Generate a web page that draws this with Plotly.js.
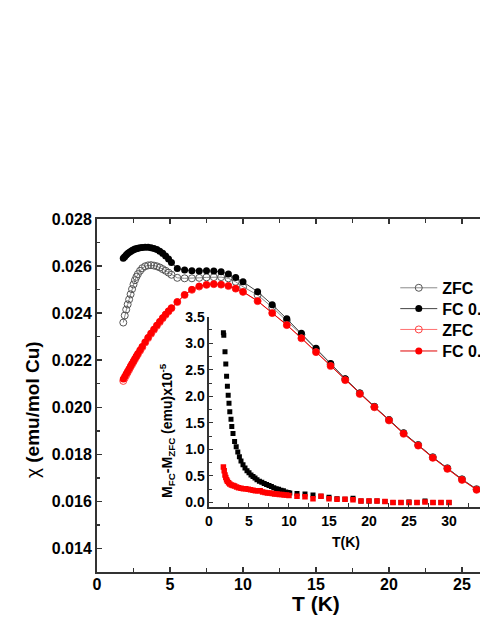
<!DOCTYPE html>
<html>
<head>
<meta charset="utf-8">
<script src="https://cdn.plot.ly/plotly-3.0.1.min.js"></script>
<style>
html, body { margin: 0; padding: 0; overflow: hidden; background: #fff; }
#chi { width: 560px; height: 621px; }
</style>
</head>
<body>
<div id="chi"></div>
<script>
// main plot: chi vs T
var tMain = [1.8, 1.9, 2.0, 2.1, 2.2, 2.3, 2.4, 2.5, 2.6, 2.7, 2.8, 2.95, 3.1, 3.3, 3.5, 3.7, 3.9, 4.1, 4.3, 4.5, 4.7, 4.9, 5.1,
    5.5, 6.0, 6.5, 7.0, 7.5, 8.0, 8.5, 9.0, 9.5, 10, 11, 12, 13, 14, 15, 16, 17, 18, 19, 20, 21, 22, 23, 24, 25, 26, 27, 28, 29, 30];

var zfcLow = [0.02360, 0.02390, 0.02415, 0.02437, 0.02458, 0.02480, 0.02502, 0.02522, 0.02540, 0.02554, 0.02566, 0.02580, 0.02591,
    0.02599, 0.02603, 0.02604, 0.02602, 0.02599, 0.02594, 0.02587, 0.02580, 0.02572, 0.02563,
    0.02550, 0.02548, 0.02548, 0.02550, 0.02552, 0.02553, 0.02553, 0.02548, 0.02533, 0.02512, 0.02477, 0.02425, 0.02368, 0.02309,
    0.02247, 0.02183, 0.02119, 0.02059, 0.02002, 0.01946, 0.01890, 0.01840, 0.01788, 0.01741, 0.01694, 0.01652, 0.01612, 0.01574,
    0.01538, 0.01504];

var fcLow = [0.02633, 0.02640, 0.02647, 0.02653, 0.02658, 0.02662, 0.02666, 0.02669, 0.02672, 0.02674, 0.02676, 0.02678, 0.02679,
    0.02680, 0.02680, 0.02678, 0.02675, 0.02670, 0.02663, 0.02654, 0.02643, 0.02630, 0.02615,
    0.02590, 0.02583, 0.02580, 0.02579, 0.02580, 0.02579, 0.02576, 0.02566, 0.02551, 0.02533, 0.02491, 0.02436, 0.02376, 0.02314,
    0.02251, 0.02186, 0.02121, 0.02061, 0.02003, 0.01947, 0.01891, 0.01840, 0.01788, 0.01741, 0.01694, 0.01652, 0.01612, 0.01574,
    0.01538, 0.01504];

var zfcHigh = [0.02112, 0.02124, 0.02136, 0.02148, 0.02159, 0.02171, 0.02182, 0.02193, 0.02204, 0.02215, 0.02225, 0.02240, 0.02255,
    0.02275, 0.02294, 0.02312, 0.02329, 0.02346, 0.02362, 0.02378, 0.02393, 0.02407, 0.02421,
    0.02447, 0.02477, 0.02499, 0.02513, 0.02520, 0.02523, 0.02521, 0.02515, 0.02504, 0.02490, 0.02451, 0.02400, 0.02349, 0.02293,
    0.02234, 0.02175, 0.02115, 0.02056, 0.02000, 0.01944, 0.01887, 0.01837, 0.01785, 0.01738, 0.01691, 0.01649, 0.01609, 0.01571,
    0.01535, 0.01501];

var fcHigh = [0.02120, 0.02131, 0.02142, 0.02153, 0.02164, 0.02175, 0.02186, 0.02197, 0.02207, 0.02218, 0.02228, 0.02243, 0.02258,
    0.02277, 0.02296, 0.02314, 0.02331, 0.02348, 0.02364, 0.02380, 0.02395, 0.02409, 0.02422,
    0.02448, 0.02478, 0.02500, 0.02514, 0.02521, 0.02524, 0.02522, 0.02516, 0.02505, 0.02491, 0.02452, 0.02401, 0.02350, 0.02294,
    0.02235, 0.02176, 0.02116, 0.02057, 0.02001, 0.01945, 0.01888, 0.01838, 0.01786, 0.01739, 0.01692, 0.01650, 0.01610, 0.01572,
    0.01536, 0.01502];

// inset: M_FC - M_ZFC (x1e-5 emu)
var tDiffLow = [1.8, 1.85, 2.0, 2.1, 2.2, 2.3, 2.4, 2.5, 2.6, 2.75, 2.85, 3.0, 3.2, 3.4, 3.6, 3.8, 4.0, 4.25, 4.5, 4.75, 5.0,
    5.25, 5.5, 5.75, 6.0, 6.3, 6.6, 6.9, 7.2, 7.5, 7.8, 8.1, 8.4, 8.7, 9.0, 9.3, 9.6, 9.9, 10.1,
    11, 12, 13, 14, 15, 16, 17, 18, 19, 20, 21, 22, 23, 24, 25, 26, 27, 28, 29, 30];
var diffLow = [3.20, 3.15, 2.84, 2.61, 2.38, 2.19, 2.02, 1.87, 1.71, 1.57, 1.43, 1.30, 1.15, 1.05, 0.95, 0.86, 0.78, 0.71, 0.65,
    0.60, 0.56, 0.52, 0.49, 0.46, 0.43, 0.40, 0.38, 0.36, 0.34, 0.32, 0.30, 0.28, 0.26, 0.25, 0.23, 0.22, 0.20, 0.19, 0.18,
    0.17, 0.16, 0.14, 0.12, 0.10, 0.07, 0.06, 0.08, 0.03, 0.03, 0.03, 0.02, 0.00, 0.00, 0.01, 0.00, 0.03, 0.00, 0.00, 0.00];

var tDiffHigh = [1.8, 1.9, 2.0, 2.1, 2.2, 2.3, 2.45, 2.6, 2.8, 3.0, 3.2, 3.45, 3.7, 4.0, 4.3, 4.6, 4.9, 5.2, 5.5, 5.8, 6.1, 6.4,
    6.7, 7.0, 7.3, 7.6, 7.9, 8.2, 8.5, 8.8, 9.1, 9.4, 9.7, 10.0,
    11, 12, 13, 14, 15, 16, 17, 18, 19, 20, 21, 22, 23, 24, 25, 26, 27, 28, 29, 30];
var diffHigh = [0.67, 0.60, 0.52, 0.47, 0.43, 0.40, 0.37, 0.35, 0.33, 0.32, 0.31, 0.29, 0.28, 0.27, 0.26, 0.26, 0.25, 0.24, 0.23,
    0.22, 0.22, 0.22, 0.20, 0.19, 0.18, 0.18, 0.17, 0.16, 0.16, 0.15, 0.15, 0.14, 0.14, 0.13,
    0.12, 0.11, 0.07, 0.12, 0.07, 0.06, 0.06, 0.05, 0.03, 0.03, 0.03, 0.02, 0.00, 0.00, 0.00, 0.00, 0.01, 0.00, 0.00, 0.00];

var legendNames = ['ZFC', 'FC 0.1T', 'ZFC', 'FC 0.5T'];

var font = "Arial, 'Liberation Sans', sans-serif";

var trace1 = {
    x: tMain, y: zfcLow, name: legendNames[0], legend: 'legend',
    type: 'scatter', mode: 'lines+markers',
    line: { color: '#8a8a8a', width: 1 },
    marker: { symbol: 'circle-open', size: 7, color: '#555', line: { width: 1 } }
};
var trace2 = {
    x: tMain, y: fcLow, name: legendNames[1], legend: 'legend2',
    type: 'scatter', mode: 'lines+markers',
    line: { color: '#444', width: 1 },
    marker: { symbol: 'circle', size: 7, color: '#000' }
};
var trace3 = {
    x: tMain, y: zfcHigh, name: legendNames[2], legend: 'legend3',
    type: 'scatter', mode: 'lines+markers',
    line: { color: '#ff7070', width: 1 },
    marker: { symbol: 'circle-open', size: 7, color: '#ff4040', line: { width: 1 } }
};
var trace4 = {
    x: tMain, y: fcHigh, name: legendNames[3], legend: 'legend4',
    type: 'scatter', mode: 'lines+markers',
    line: { color: '#e00000', width: 1 },
    marker: { symbol: 'circle', size: 7, color: '#ff0000' }
};

var inset1 = {
    x: tDiffLow, y: diffLow, xaxis: 'x2', yaxis: 'y2',
    type: 'scatter', mode: 'markers', showlegend: false,
    marker: { symbol: 'square', size: 5, color: '#000' }
};
var inset2 = {
    x: tDiffHigh, y: diffHigh, xaxis: 'x2', yaxis: 'y2',
    type: 'scatter', mode: 'markers', showlegend: false,
    marker: { symbol: 'square', size: 5.5, color: '#ff0000' }
};

var tickFont = { family: font, size: 16, color: '#000', weight: 'bold' };
var insetFont = { family: font, size: 14, color: '#000', weight: 'bold' };

// one legend box per entry so the rows sit as close as in the original
function legendAt(y) {
    return {
        x: 0.681, xanchor: 'left', y: y, yanchor: 'top',
        font: { family: font, size: 16, color: '#000', weight: 'bold' },
        itemwidth: 37, bgcolor: 'rgba(0,0,0,0)'
    };
}

var layout = {
    width: 560,
    height: 621,
    margin: { l: 97, r: 25, t: 219, b: 49 },
    paper_bgcolor: '#fff',
    plot_bgcolor: 'rgba(0,0,0,0)',
    font: { family: font, color: '#000' },
    showlegend: true,
    legend: legendAt(0.853),
    legend2: legendAt(0.794),
    legend3: legendAt(0.735),
    legend4: legendAt(0.674),
    xaxis: {
        range: [0, 30], dtick: 5, tick0: 0,
        showline: true, linecolor: '#333', linewidth: 2, mirror: 'ticks',
        ticks: 'inside', ticklen: 5, tickwidth: 1.5, tickcolor: '#333',
        minor: { dtick: 2.5, ticks: 'inside', ticklen: 4, tickwidth: 1.5, tickcolor: '#333' },
        showgrid: false, zeroline: false,
        ticklabelstandoff: -3,
        tickfont: tickFont
    },
    yaxis: {
        range: [0.013, 0.028], dtick: 0.002, tick0: 0.014, tickformat: '.3f',
        showline: true, linecolor: '#333', linewidth: 2, mirror: 'ticks',
        ticks: 'inside', ticklen: 5, tickwidth: 1.5, tickcolor: '#333',
        minor: { dtick: 0.001, ticks: 'inside', ticklen: 3, tickwidth: 1.5, tickcolor: '#333' },
        showgrid: false, zeroline: false,
        tickfont: tickFont
    },
    xaxis2: {
        domain: [0.2557, 0.8767], anchor: 'y2',
        range: [0, 34], dtick: 5, tick0: 0,
        showline: true, linecolor: '#333', linewidth: 1.5,
        ticks: 'inside', ticklen: 4, tickwidth: 1, tickcolor: '#333',
        minor: { dtick: 2.5, ticks: 'inside', ticklen: 4, tickwidth: 1, tickcolor: '#333' },
        showgrid: false, zeroline: false,
        tickfont: insetFont
    },
    yaxis2: {
        domain: [0.1833, 0.7232], anchor: 'x2',
        range: [-0.09, 3.5], dtick: 0.5, tick0: 0, tickformat: '.1f',
        showline: true, linecolor: '#333', linewidth: 1.5,
        ticks: 'inside', ticklen: 4, tickwidth: 1, tickcolor: '#333',
        minor: { dtick: 0.25, ticks: 'inside', ticklen: 3, tickwidth: 1, tickcolor: '#333' },
        showgrid: false, zeroline: false,
        tickfont: insetFont
    },
    annotations: [
        {
            text: 'χ <b>(emu/mol Cu)</b>', textangle: -90,
            xref: 'paper', yref: 'paper', x: -0.146, y: 0.459,
            xanchor: 'center', yanchor: 'middle', showarrow: false,
            font: { family: font, size: 19, color: '#000' }
        },
        {
            text: '<b>T (K)</b>',
            xref: 'paper', yref: 'paper', x: 0.5, y: -0.088,
            xanchor: 'center', yanchor: 'middle', showarrow: false,
            font: { family: font, size: 21, color: '#000' }
        },
        {
            text: '<b>T(K)</b>',
            xref: 'paper', yref: 'paper', x: 0.5685, y: 0.0858,
            xanchor: 'center', yanchor: 'middle', showarrow: false,
            font: { family: font, size: 14, color: '#000' }
        },
        {
            text: '<b>M<sub>FC</sub>-M<sub>ZFC</sub> (emu)x10<sup>-5</sup></b>', textangle: -90,
            xref: 'paper', yref: 'paper', x: 0.16, y: 0.40,
            xanchor: 'center', yanchor: 'middle', showarrow: false,
            font: { family: font, size: 14, color: '#000' }
        }
    ]
};

var data = [trace1, trace2, trace3, trace4, inset1, inset2];
Plotly.newPlot('chi', data, layout, { displayModeBar: false, staticPlot: true });
</script>
</body>
</html>
